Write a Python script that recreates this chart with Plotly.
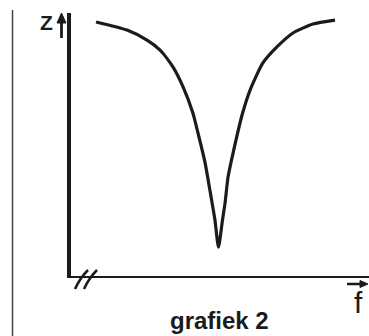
import plotly.graph_objects as go

# Data (arbitrary units, axes 0..10)
f_values = [0.84, 1.88, 2.55, 2.99, 3.42, 3.76, 4.09, 4.26, 4.50, 4.66, 4.83, 4.95,
            5.08, 5.17, 5.27, 5.44, 5.74, 6.01, 6.44, 6.91, 7.45, 8.12, 8.86]
z_values = [9.66, 9.35, 8.97, 8.59, 7.95, 7.19, 6.20, 5.44, 4.30, 3.27, 2.13, 1.10,
            2.10, 2.78, 3.76, 4.68, 6.12, 7.07, 8.10, 8.71, 9.24, 9.58, 9.73]

x_label = "f"
y_label = "Z"
caption = "grafiek 2"

W, H = 369, 336
L, R, T, B = 71, 0, 13, 60
PW, PH = W - L - R, H - T - B


def px(x):
    return (x - L) / PW


def py(y):
    return (H - B - y) / PH


ink = "#1b1b1b"
fig = go.Figure()
fig.add_trace(go.Scatter(x=f_values, y=z_values, mode="lines",
                         line=dict(color=ink, width=3.2, shape="spline", smoothing=0.6),
                         hoverinfo="skip"))

fig.update_layout(
    width=W, height=H,
    margin=dict(l=L, r=R, t=T, b=B),
    paper_bgcolor="white", plot_bgcolor="white",
    showlegend=False,
    xaxis=dict(range=[0, 10], showgrid=False, zeroline=False, showticklabels=False,
               ticks="", showline=True, linecolor=ink, linewidth=2, fixedrange=True),
    yaxis=dict(range=[0, 10], showgrid=False, zeroline=False, showticklabels=False,
               ticks="", showline=True, linecolor=ink, linewidth=3.5, fixedrange=True),
)


def pline(x0, y0, x1, y1, w, color=ink):
    return dict(type="line", xref="paper", yref="paper", x0=px(x0), x1=px(x1),
                y0=py(y0), y1=py(y1), line=dict(color=color, width=w))


def tri(points):
    d = "M " + " L ".join(f"{px(a)} {py(b)}" for a, b in points) + " Z"
    return dict(type="path", xref="paper", yref="paper", path=d,
                fillcolor=ink, line=dict(color=ink, width=1))


shapes = [
    # page border line on the left
    pline(12.5, 10, 12.5, 336, 1.5, "#444"),
    # axis break marks
    dict(type="path", xref="paper", yref="paper",
         path=f"M {px(75)} {py(289)} Q {px(80)} {py(278)} {px(88)} {py(270)}",
         line=dict(color=ink, width=2.5)),
    dict(type="path", xref="paper", yref="paper",
         path=f"M {px(84)} {py(289)} Q {px(89)} {py(278)} {px(97)} {py(270)}",
         line=dict(color=ink, width=2.5)),
    # Z arrow (upwards)
    pline(61.5, 38, 61.5, 21, 2.8),
    tri([(57, 23), (61.5, 13), (66, 23)]),
    # f arrow (to the right)
    pline(347, 284, 361, 284, 2.5),
    tri([(360, 280.5), (368, 284), (360, 287.5)]),
]
fig.update_layout(shapes=shapes)

font = "Liberation Sans, Arial, sans-serif"
annotations = [
    dict(text=f"<b>{y_label}</b>", x=px(46), y=py(22.5), xref="paper", yref="paper",
         showarrow=False, xanchor="center", yanchor="middle",
         font=dict(family=font, size=21, color=ink)),
    dict(text=x_label, x=px(358), y=py(302), xref="paper", yref="paper",
         showarrow=False, xanchor="center", yanchor="middle",
         font=dict(family=font, size=30, color=ink)),
    dict(text=f"<b>{caption}</b>", x=px(219), y=py(320), xref="paper", yref="paper",
         showarrow=False, xanchor="center", yanchor="middle",
         font=dict(family=font, size=24, color=ink)),
]
fig.update_layout(annotations=annotations)

fig.write_html("out.html", config={"displayModeBar": False},
               post_script="document.body.style.margin='0';document.body.style.overflow='hidden';")
